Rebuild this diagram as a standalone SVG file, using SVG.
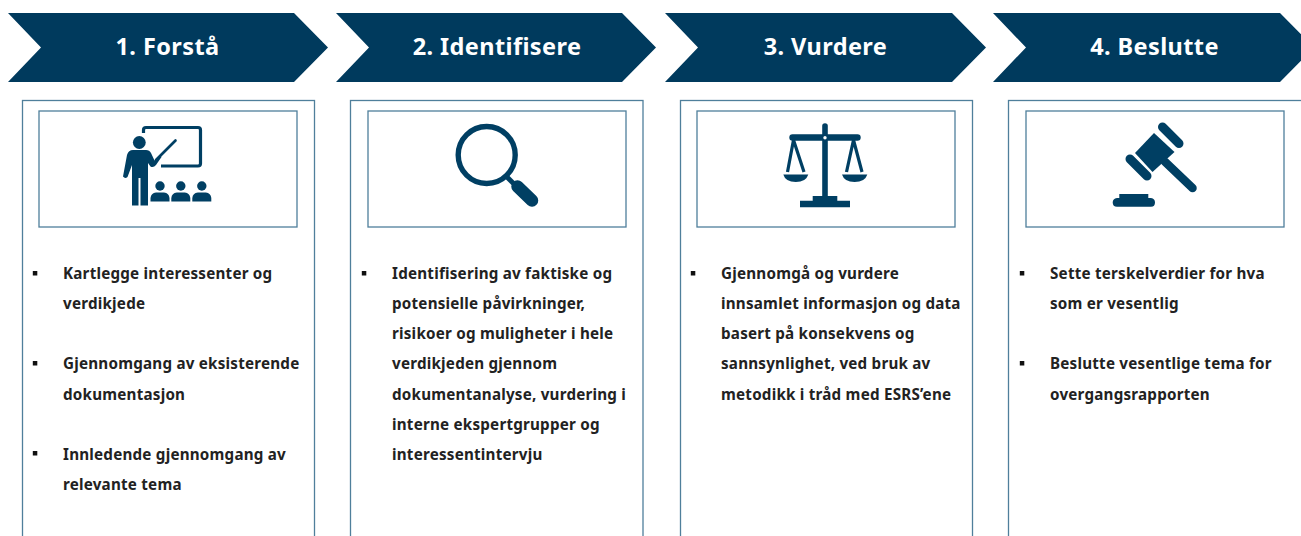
<svg xmlns="http://www.w3.org/2000/svg" width="1301" height="536" viewBox="0 0 1301 536">
<style>
.chev{fill:#003a5d}
.title{font-family:"Noto Sans","Liberation Sans",sans-serif;font-weight:700;font-size:23.5px;letter-spacing:.4px;fill:#fff;text-anchor:middle}
.box{fill:#fff;stroke:#4f7f9b;stroke-width:1.3}
.t{font-family:"Noto Sans","Liberation Sans",sans-serif;font-weight:700;font-size:15.2px;letter-spacing:.22px;fill:#222}
.b{fill:#111}
.i{fill:#003f63;stroke:none}
.l{fill:none;stroke:#003f63}
</style>
<rect width="1301" height="536" fill="#fff"/>
<g id="step1">
<polygon class="chev" points="8,13 294,13 328,47.5 294,82 8,82 41,47.5"/>
<text class="title" x="167.500" y="55">1. Forstå</text>
<rect class="box" x="22.500" y="100.500" width="292" height="440"/>
<rect class="box" x="39" y="111" width="258" height="116"/>
<g id="icon-teacher">
<path class="l" stroke-width="3.200" d="M143.500 133V130Q143.500 127.500 146 127.500H198Q200.500 127.500 200.500 130V163.500Q200.500 166 198 166H161"/>
<circle class="i" cx="139.300" cy="142.500" r="6.400"/>
<path class="i" d="M133 150H146Q149.500 150 151 153L154.500 160.500L160 155L161.500 157L156 165Q153.500 168 150.500 166.500L148 163V205.500H140.500V178H138.500V205.500H132V165L127.500 177Q125 179 123 176.500L127 155Q128.500 150 133 150Z"/>
<path class="l" stroke-width="2.600" stroke-linecap="round" d="M156 160L175.500 140.500"/>
<g id="audience">
<circle class="i" cx="160" cy="186" r="4.700"/><path class="i" d="M150.500 201.500V198Q151 193 156 192.500H164Q169 193 169.500 198V201.500Z"/>
<circle class="i" cx="180.800" cy="186" r="4.700"/><path class="i" d="M171.300 201.500V198Q171.800 193 176.800 192.500H184.800Q189.800 193 190.300 198V201.500Z"/>
<circle class="i" cx="201.800" cy="186" r="4.700"/><path class="i" d="M192.300 201.500V198Q192.800 193 197.800 192.500H205.800Q210.800 193 211.300 198V201.500Z"/>
</g>
</g>
<rect class="b" x="32.800" y="271" width="4.500" height="4.500"/>
<text class="t" x="63" y="278.500">Kartlegge interessenter og</text>
<text class="t" x="63" y="308.500">verdikjede</text>
<rect class="b" x="32.800" y="361" width="4.500" height="4.500"/>
<text class="t" x="63" y="369">Gjennomgang av eksisterende</text>
<text class="t" x="63" y="399.500">dokumentasjon</text>
<rect class="b" x="32.800" y="451" width="4.500" height="4.500"/>
<text class="t" x="63" y="459.500">Innledende gjennomgang av</text>
<text class="t" x="63" y="489.500">relevante tema</text>
</g>
<g id="step2">
<polygon class="chev" points="336,13 622,13 656,47.5 622,82 336,82 369,47.5"/>
<text class="title" x="497" y="55">2. Identifisere</text>
<rect class="box" x="350.500" y="100.500" width="292.500" height="440"/>
<rect class="box" x="368" y="111" width="258" height="116"/>
<g id="icon-magnifier">
<circle cx="486.700" cy="155" r="28.500" fill="none" stroke="#003f63" stroke-width="5.400"/>
<path class="l" stroke-width="5" d="M505 175L516 186"/>
<path class="l" stroke-width="12.500" stroke-linecap="round" d="M517.500 186.500L532 200.500"/>
</g>
<rect class="b" x="361.800" y="271" width="4.500" height="4.500"/>
<text class="t" x="392" y="278.500">Identifisering av faktiske og</text>
<text class="t" x="392" y="308.500">potensielle påvirkninger,</text>
<text class="t" x="392" y="338.500">risikoer og muligheter i hele</text>
<text class="t" x="392" y="369">verdikjeden gjennom</text>
<text class="t" x="392" y="399.500">dokumentanalyse, vurdering i</text>
<text class="t" x="392" y="429.500">interne ekspertgrupper og</text>
<text class="t" x="392" y="459.500">interessentintervju</text>
</g>
<g id="step3">
<polygon class="chev" points="665,13 952,13 986,47.500 952,82 665,82 698,47.500"/>
<text class="title" x="825.500" y="55">3. Vurdere</text>
<rect class="box" x="680.500" y="100.500" width="292" height="440"/>
<rect class="box" x="697" y="111" width="258" height="116"/>
<g id="icon-scales">
<path class="l" stroke-width="5.600" stroke-linecap="round" d="M825 126V198"/>
<path class="l" stroke-width="6.400" stroke-linecap="round" d="M792.500 137.500H857.500"/>
<circle cx="825" cy="137.700" r="1.700" fill="#fff"/>
<path class="i" d="M812.700 196H837.300V200.700H850V207.300H800V200.700H812.700Z"/>
<path class="l" stroke-width="3.200" d="M787.500 172L793.500 140L804 172"/>
<path class="l" stroke-width="3.200" d="M846.500 172L853.500 140L862 172"/>
<path class="i" d="M783.300 174.500H808.300Q806 182 795.800 182Q785.500 182 783.300 174.500Z"/>
<path class="i" d="M842 174.500H867.300Q865 182 854.600 182Q844.300 182 842 174.500Z"/>
</g>
<rect class="b" x="690.800" y="271" width="4.500" height="4.500"/>
<text class="t" x="721" y="278.500">Gjennomgå og vurdere</text>
<text class="t" x="721" y="308.500">innsamlet informasjon og data</text>
<text class="t" x="721" y="338.500">basert på konsekvens og</text>
<text class="t" x="721" y="369">sannsynlighet, ved bruk av</text>
<text class="t" x="721" y="399.500">metodikk i tråd med ESRS’ene</text>
</g>
<g id="step4">
<polygon class="chev" points="993,13 1280,13 1314,47.500 1280,82 993,82 1026,47.500"/>
<text class="title" x="1154.500" y="55">4. Beslutte</text>
<rect class="box" x="1008.500" y="100.500" width="300" height="440"/>
<rect class="box" x="1026" y="111" width="258" height="116"/>
<g id="icon-gavel">
<path class="l" stroke-width="9" stroke-linecap="round" d="M1162.500 127L1179 143.500"/>
<path class="l" stroke-width="9" stroke-linecap="round" d="M1130 159L1147 176"/>
<polygon class="i" points="1154,133 1174.500,152 1152.500,172 1135,153"/>
<path class="l" stroke-width="8.500" stroke-linecap="round" d="M1165 161.700L1192.500 188"/>
<path class="i" d="M1119.300 194H1148.300V198H1151Q1155 198.500 1155 202.500Q1155 206.700 1151 206.700H1117Q1112.700 206.700 1112.700 202.500Q1112.700 198.500 1117 198H1119.300Z"/>
</g>
<rect class="b" x="1019.800" y="271" width="4.500" height="4.500"/>
<text class="t" x="1050" y="278.500">Sette terskelverdier for hva</text>
<text class="t" x="1050" y="308.500">som er vesentlig</text>
<rect class="b" x="1019.800" y="361" width="4.500" height="4.500"/>
<text class="t" x="1050" y="369">Beslutte vesentlige tema for</text>
<text class="t" x="1050" y="399.500">overgangsrapporten</text>
</g>
</svg>
